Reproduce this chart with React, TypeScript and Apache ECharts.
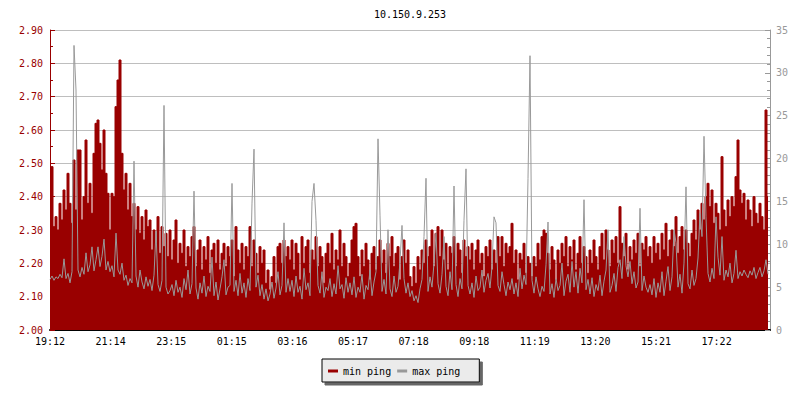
import React, { useEffect, useRef } from "react";
import * as echarts from "echarts";

const chartTitle = "10.150.9.253";
const tickLabels = ["19:12", "21:14", "23:15", "01:15", "03:16", "05:17", "07:18", "09:18", "11:19", "13:20", "15:21", "17:22"];
const stepMinutes = 4;
const tickStepMinutes = 121.2;
const totalMinutes = 1440;

// min ping (ms), left axis
const minPing = [
  2.36, 2.49, 2.31, 2.34, 2.30, 2.38, 2.33, 2.42, 2.36, 2.47, 2.38, 2.32, 2.51, 2.36, 2.54, 2.54, 2.33, 2.40, 2.57, 2.38, 2.44, 2.35, 2.53, 2.62, 2.63, 2.56, 2.48, 2.60, 2.47, 2.41,
  2.30, 2.41, 2.40, 2.67, 2.75, 2.81, 2.53, 2.42, 2.47, 2.36, 2.44, 2.34, 2.38, 2.30, 2.37, 2.29, 2.34, 2.27, 2.36, 2.31, 2.33, 2.24, 2.30, 2.26, 2.34, 2.23, 2.31, 2.25, 2.29, 2.22,
  2.30, 2.21, 2.27, 2.33, 2.20, 2.26, 2.23, 2.30, 2.19, 2.25, 2.22, 2.28, 2.31, 2.19, 2.24, 2.27, 2.18, 2.25, 2.21, 2.28, 2.17, 2.24, 2.26, 2.20, 2.27, 2.18, 2.23, 2.26, 2.19, 2.25,
  2.22, 2.27, 2.16, 2.31, 2.24, 2.20, 2.26, 2.18, 2.25, 2.22, 2.31, 2.19, 2.27, 2.23, 2.17, 2.25, 2.20, 2.24, 2.14, 2.18, 2.12, 2.16, 2.22, 2.14, 2.25, 2.26, 2.20, 2.27, 2.22, 2.25,
  2.21, 2.27, 2.18, 2.26, 2.23, 2.15, 2.28, 2.20, 2.25, 2.27, 2.17, 2.24, 2.21, 2.28, 2.19, 2.25, 2.22, 2.14, 2.23, 2.26, 2.20, 2.29, 2.18, 2.24, 2.21, 2.30, 2.19, 2.26, 2.22, 2.16,
  2.20, 2.27, 2.31, 2.32, 2.22, 2.16, 2.24, 2.19, 2.26, 2.21, 2.15, 2.23, 2.25, 2.18, 2.22, 2.27, 2.20, 2.24, 2.17, 2.26, 2.22, 2.28, 2.19, 2.23, 2.25, 2.15, 2.22, 2.27, 2.20, 2.24,
  2.16, 2.13, 2.19, 2.14, 2.22, 2.18, 2.24, 2.20, 2.27, 2.22, 2.25, 2.30, 2.19, 2.29, 2.31, 2.22, 2.30, 2.21, 2.26, 2.18, 2.25, 2.23, 2.28, 2.19, 2.26, 2.24, 2.17, 2.27, 2.22, 2.25,
  2.21, 2.26, 2.18, 2.24, 2.27, 2.20, 2.23, 2.16, 2.25, 2.22, 2.27, 2.18, 2.24, 2.20, 2.28, 2.22, 2.28, 2.19, 2.26, 2.23, 2.25, 2.32, 2.20, 2.24, 2.15, 2.23, 2.21, 2.26, 2.17, 2.22,
  2.20, 2.16, 2.22, 2.19, 2.26, 2.21, 2.28, 2.30, 2.29, 2.23, 2.18, 2.25, 2.21, 2.15, 2.24, 2.20, 2.26, 2.22, 2.28, 2.19, 2.25, 2.21, 2.27, 2.18, 2.23, 2.28, 2.20, 2.25, 2.22, 2.17,
  2.24, 2.20, 2.27, 2.22, 2.18, 2.25, 2.29, 2.21, 2.30, 2.24, 2.19, 2.27, 2.23, 2.28, 2.20, 2.37, 2.26, 2.22, 2.29, 2.18, 2.25, 2.21, 2.27, 2.23, 2.29, 2.19, 2.26, 2.24, 2.28, 2.22,
  2.25, 2.20, 2.28, 2.23, 2.26, 2.21, 2.29, 2.24, 2.32, 2.22, 2.27, 2.30, 2.25, 2.34, 2.23, 2.28, 2.31, 2.24, 2.30, 2.26, 2.22, 2.29, 2.33, 2.27, 2.36, 2.30, 2.38, 2.33, 2.40, 2.44,
  2.37, 2.42, 2.32, 2.38, 2.35, 2.30, 2.52, 2.36, 2.31, 2.39, 2.34, 2.40, 2.37, 2.46, 2.57, 2.42, 2.38, 2.41, 2.33, 2.39, 2.36, 2.31, 2.40, 2.35, 2.32, 2.38, 2.34, 2.30, 2.66, 2.40,
];

// max ping (ms), right axis
const maxPing = [
  5.9, 6.3, 5.8, 6.2, 6.0, 6.5, 6.1, 8.3, 6.0, 6.6, 5.5, 6.8, 33.2, 28.0, 7.0, 6.2, 7.3, 6.5, 9.0, 6.8, 7.6, 9.7, 6.9, 8.2, 9.7, 7.4, 8.6, 10.6, 7.0, 8.0,
  6.8, 7.5, 6.2, 11.3, 7.0, 6.5, 7.8, 5.8, 6.4, 5.2, 6.0, 5.5, 19.7, 6.3, 5.0, 7.0, 5.6, 4.8, 6.2, 5.1, 5.9, 4.6, 6.4, 11.5, 5.3, 4.5, 5.8, 26.2, 5.0, 4.2,
  4.6, 5.3, 4.0, 5.8, 4.4, 5.0, 3.8, 6.0, 4.7, 7.0, 4.2, 5.4, 16.2, 4.9, 3.6, 5.5, 4.3, 6.3, 3.9, 5.1, 4.5, 8.5, 4.0, 5.6, 3.5, 4.8, 6.2, 8.2, 4.1, 5.0,
  5.2, 17.1, 4.5, 5.8, 4.0, 6.6, 4.3, 5.5, 3.8, 6.0, 4.6, 14.8, 21.1, 5.0, 6.4, 4.0, 5.3, 3.6, 4.8, 3.4, 4.2, 5.6, 3.7, 4.9, 6.8, 4.1, 5.2, 12.5, 4.4, 6.0,
  4.5, 5.8, 3.9, 6.3, 4.4, 5.1, 3.6, 7.2, 4.7, 5.5, 4.0, 15.0, 17.1, 12.8, 5.2, 4.3, 6.8, 3.8, 5.0, 4.6, 6.0, 3.9, 5.4, 4.2, 7.5, 4.8, 5.3, 3.7, 6.1, 4.4,
  5.5, 4.1, 6.2, 3.8, 5.0, 4.4, 6.5, 3.6, 5.2, 4.7, 7.0, 4.0, 5.6, 6.8, 22.3, 13.4, 4.5, 5.9, 4.2, 11.7, 4.8, 3.9, 6.3, 4.4, 5.1, 8.0, 12.2, 6.0, 4.3, 5.5,
  3.9, 4.6, 3.4, 4.0, 3.2, 4.8, 5.9, 10.9, 17.7, 4.5, 6.2, 5.0, 7.8, 11.3, 5.4, 4.3, 6.5, 10.9, 5.1, 4.0, 6.8, 4.7, 16.8, 5.3, 3.9, 6.0, 4.8, 12.8, 18.8, 5.2,
  4.2, 5.5, 3.8, 6.3, 4.6, 5.0, 7.0, 4.4, 5.8, 6.6, 4.9, 7.4, 13.2, 12.5, 5.2, 4.5, 6.8, 5.3, 4.0, 5.6, 4.7, 6.0, 4.2, 5.5, 3.9, 7.2, 4.8, 6.4, 5.3, 17.7,
  32.0, 5.8, 4.3, 6.2, 4.8, 3.9, 5.1, 4.5, 7.6, 12.6, 4.2, 5.4, 3.8, 6.0, 4.6, 5.2, 7.8, 4.0, 5.7, 6.5, 4.4, 8.0, 5.0, 6.8, 4.3, 7.2, 5.5, 15.2, 4.7, 5.9,
  4.2, 6.1, 3.9, 5.3, 4.6, 6.4, 4.0, 5.7, 7.0, 11.7, 4.4, 5.2, 6.6, 4.5, 7.3, 8.2, 6.0, 10.9, 7.5, 6.2, 8.0, 5.4, 6.8, 4.9, 5.6, 14.2, 4.6, 6.3, 5.0, 4.4,
  5.3, 4.1, 6.0, 3.8, 5.5, 4.4, 6.8, 4.0, 5.7, 7.4, 4.6, 6.2, 11.7, 10.2, 5.0, 6.5, 4.3, 7.8, 16.7, 5.4, 4.8, 7.0, 5.2, 6.0, 8.4, 13.6, 10.9, 22.6, 13.2, 6.6,
  5.6, 7.2, 6.0, 13.2, 8.5, 6.4, 10.9, 5.8, 7.0, 6.2, 7.8, 5.5, 6.6, 9.3, 6.0, 6.8, 6.3, 7.0, 6.5, 6.1, 6.9, 6.4, 7.3, 6.0, 6.7, 7.3, 6.2, 6.9, 8.2, 6.5,
];

const FONT = "DejaVu Sans Mono";
const RED = "#990000";
const GRAY = "#999999";

export default function App() {
  const ref = useRef<HTMLDivElement>(null);
  useEffect(() => {
    const chart = echarts.init(ref.current!, null, { renderer: "svg" });
    const minData = minPing.map((v, i) => [i * stepMinutes, v]);
    const maxData = maxPing.map((v, i) => [i * stepMinutes, v]);
    chart.setOption({
      animation: false,
      backgroundColor: "#ffffff",
      grid: { left: 50, right: 30, top: 30, bottom: 70, containLabel: false },
      graphic: [
        {
          type: "text",
          x: 410,
          y: 14,
          style: {
            text: chartTitle,
            fill: "#000",
            font: `10px "${FONT}"`,
            textAlign: "center",
            textVerticalAlign: "middle",
          },
        },
      ],
      legend: {
        data: ["min ping", "max ping"],
        left: 322,
        top: 359,
        icon: "rect",
        itemWidth: 10,
        itemHeight: 3,
        itemGap: 6,
        padding: [7, 19, 6, 6],
        backgroundColor: "#ebebeb",
        borderColor: "#000",
        borderWidth: 1,
        shadowColor: "#666",
        shadowBlur: 0,
        shadowOffsetX: 3,
        shadowOffsetY: 3,
        textStyle: { fontFamily: FONT, fontSize: 10, color: "#000" },
      },
      xAxis: {
        type: "value",
        min: 0,
        max: totalMinutes,
        interval: tickStepMinutes,
        axisLine: { show: true, lineStyle: { color: "#000", width: 2 } },
        axisTick: { show: true, inside: true, length: 5, lineStyle: { color: "#000" } },
        axisLabel: {
          color: "#000",
          fontFamily: FONT,
          fontSize: 10,
          margin: 6,
          showMaxLabel: false,
          formatter: (v: number) => tickLabels[Math.round(v / tickStepMinutes)] ?? "",
        },
        splitLine: { show: false },
      },
      yAxis: [
        {
          type: "value",
          position: "left",
          min: 2.0,
          max: 2.9,
          interval: 0.1,
          axisLine: { show: true, lineStyle: { color: RED, width: 1 } },
          axisTick: { show: true, inside: true, length: 5, lineStyle: { color: RED } },
          minorTick: { show: true, splitNumber: 2, length: 3, lineStyle: { color: RED } },
          axisLabel: {
            color: RED,
            fontFamily: FONT,
            fontSize: 10,
            margin: 7,
            formatter: (v: number) => v.toFixed(2),
          },
          splitLine: { show: true, lineStyle: { color: "#bebebe", width: 1 } },
        },
        {
          type: "value",
          position: "right",
          min: 0,
          max: 35,
          interval: 5,
          axisLine: { show: true, lineStyle: { color: GRAY, width: 1 } },
          axisTick: { show: true, inside: true, length: 5, lineStyle: { color: GRAY } },
          minorTick: { show: true, splitNumber: 5, length: 3, lineStyle: { color: GRAY } },
          axisLabel: { color: GRAY, fontFamily: FONT, fontSize: 10, margin: 6 },
          splitLine: { show: false },
        },
      ],
      series: [
        {
          name: "min ping",
          type: "line",
          yAxisIndex: 0,
          data: minData,
          step: "middle",
          symbol: "none",
          lineStyle: { width: 1, color: RED },
          itemStyle: { color: RED },
          areaStyle: { color: RED, opacity: 1, origin: "start" },
          z: 2,
        },
        {
          name: "max ping",
          type: "line",
          yAxisIndex: 1,
          data: maxData,
          symbol: "none",
          lineStyle: { width: 1, color: GRAY },
          itemStyle: { color: GRAY },
          z: 3,
        },
      ],
    });
    return () => chart.dispose();
  }, []);
  return (
    <div
      ref={ref}
      style={{ position: "fixed", left: 0, top: 0, width: 800, height: 400, background: "#fff" }}
    />
  );
}
